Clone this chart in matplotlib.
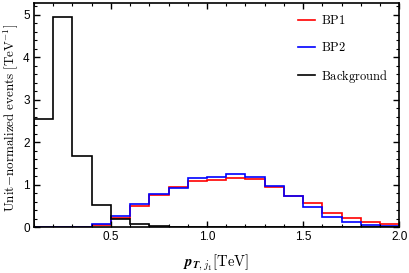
import numpy as np
import matplotlib
matplotlib.use("Agg")
import matplotlib.pyplot as plt
from matplotlib.ticker import MultipleLocator

plt.rcParams['mathtext.fontset'] = 'cm'
plt.rcParams['font.family'] = ['Liberation Sans', 'DejaVu Sans']

# bin edges in TeV (0.1 wide)
edges = np.round(np.arange(0.1, 2.0001, 0.1), 2)

bp1 = [0.0, 0.0, 0.01, 0.06, 0.205, 0.50, 0.76, 0.94, 1.09, 1.11,
       1.15, 1.14, 0.95, 0.74, 0.56, 0.34, 0.205, 0.11, 0.063]
bp2 = [0.0, 0.0, 0.01, 0.08, 0.27, 0.535, 0.78, 0.92, 1.15, 1.17,
       1.24, 1.17, 0.97, 0.74, 0.465, 0.23, 0.12, 0.05, 0.025]
background = [2.55, 4.95, 1.68, 0.52, 0.18, 0.07, 0.03, 0.01, 0.01, 0.005,
              0.005, 0.003, 0.003, 0.002, 0.002, 0.001, 0.001, 0.001, 0.001]

fig = plt.figure(figsize=(4.09, 2.73), dpi=100)
ax = fig.add_axes([0.083, 0.168, 0.893, 0.821])

ax.stairs(bp1, edges, color='red', lw=1.2, label=r'$\mathrm{BP1}$')
ax.stairs(bp2, edges, color='blue', lw=1.2, label=r'$\mathrm{BP2}$')
ax.stairs(background, edges, color='black', lw=1.2, label=r'$\mathrm{Background}$')

ax.set_xlim(0.1, 2.0)
ax.set_ylim(0, 5.28)
ax.xaxis.set_major_locator(MultipleLocator(0.5))
ax.xaxis.set_minor_locator(MultipleLocator(0.1))
ax.yaxis.set_major_locator(MultipleLocator(1))
ax.yaxis.set_minor_locator(MultipleLocator(0.2))
ax.tick_params(which='both', direction='in', top=True, right=True, labelsize=8.5, pad=3)
ax.tick_params(which='major', length=4, width=1)
ax.tick_params(which='minor', length=2, width=0.8)
ax.xaxis.set_major_formatter(matplotlib.ticker.FormatStrFormatter('%.1f'))
for s in ax.spines.values():
    s.set_linewidth(1.2)

ax.set_xlabel(r'$\boldsymbol{p}_{\boldsymbol{T},j_1}\mathrm{[TeV]}$', fontsize=10.5, labelpad=7)
ax.set_ylabel(r'$\mathrm{Unit\!-\!normalized\ events\ [TeV^{-1}]}$', fontsize=9.4)
ax.yaxis.set_label_coords(-0.038, 0.485)

leg = ax.legend(loc='upper right', frameon=False, fontsize=9, handlelength=1.3,
                labelspacing=1.1, handletextpad=0.5, bbox_to_anchor=(1.0, 1.0))

fig.savefig('out.png', dpi=100)
